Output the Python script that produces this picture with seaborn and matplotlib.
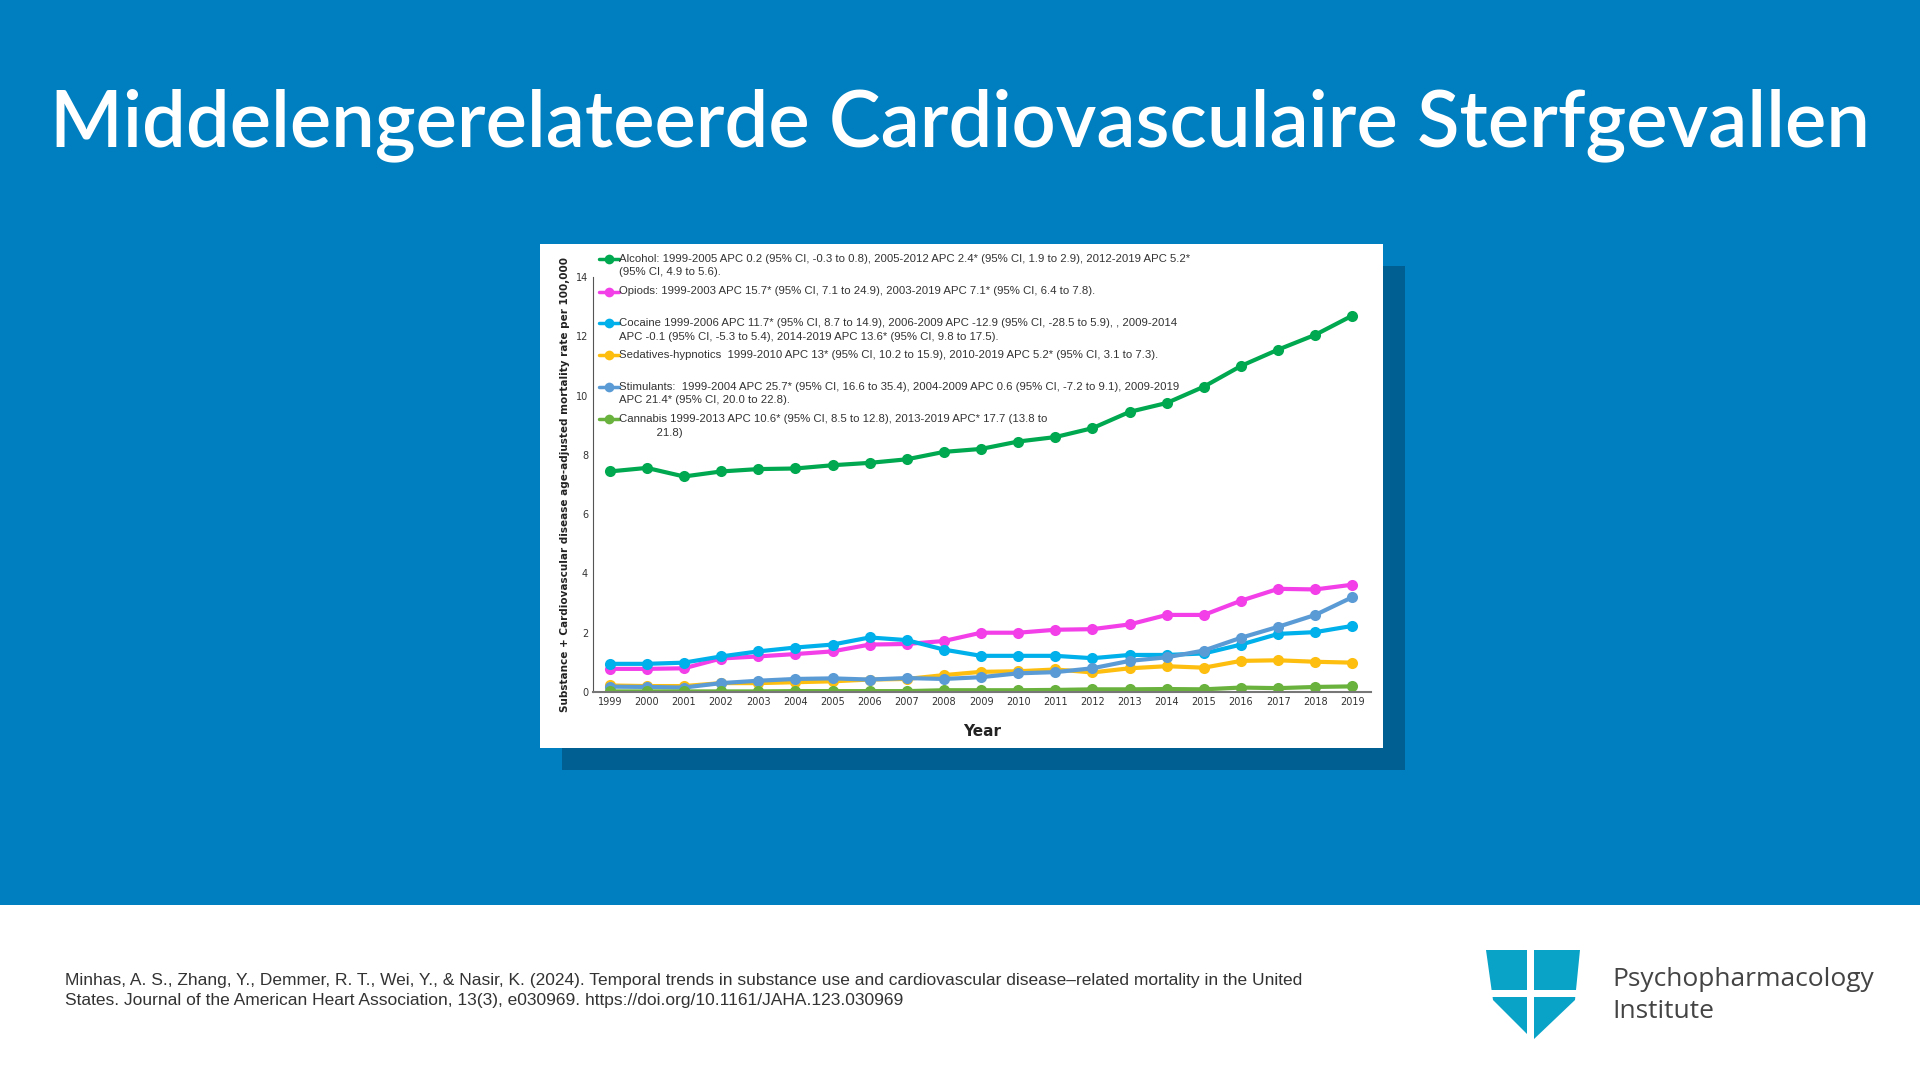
import matplotlib
matplotlib.use("Agg")
import matplotlib.pyplot as plt
import seaborn as sns
import pandas as pd
from matplotlib.patches import Rectangle, Polygon

years = list(range(1999, 2020))
alcohol = [7.44, 7.56, 7.27, 7.44, 7.52, 7.54, 7.65, 7.73, 7.85, 8.1, 8.2, 8.45, 8.6, 8.9, 9.45, 9.75, 10.3, 11.0, 11.55, 12.05, 12.7]
opioids = [0.78, 0.78, 0.8, 1.13, 1.2, 1.28, 1.37, 1.6, 1.62, 1.72, 2.0, 2.0, 2.1, 2.12, 2.28, 2.6, 2.6, 3.08, 3.48, 3.46, 3.62]
cocaine = [0.95, 0.95, 0.99, 1.2, 1.37, 1.5, 1.6, 1.84, 1.75, 1.43, 1.22, 1.22, 1.22, 1.14, 1.25, 1.25, 1.3, 1.6, 1.96, 2.02, 2.23]
sedatives = [0.22, 0.2, 0.2, 0.3, 0.3, 0.33, 0.36, 0.42, 0.44, 0.57, 0.68, 0.7, 0.76, 0.66, 0.8, 0.87, 0.82, 1.05, 1.07, 1.02, 0.99]
stimulants = [0.18, 0.17, 0.15, 0.3, 0.38, 0.44, 0.46, 0.42, 0.47, 0.44, 0.5, 0.63, 0.67, 0.8, 1.05, 1.17, 1.4, 1.83, 2.2, 2.6, 3.2]
cannabis = [0.02, 0.02, 0.02, 0.02, 0.02, 0.03, 0.03, 0.03, 0.03, 0.06, 0.06, 0.06, 0.07, 0.09, 0.09, 0.1, 0.09, 0.15, 0.13, 0.17, 0.19]

labels = [
    "Alcohol: 1999-2005 APC 0.2 (95% CI, -0.3 to 0.8), 2005-2012 APC 2.4* (95% CI, 1.9 to 2.9), 2012-2019 APC 5.2*\n(95% CI, 4.9 to 5.6).",
    "Opiods: 1999-2003 APC 15.7* (95% CI, 7.1 to 24.9), 2003-2019 APC 7.1* (95% CI, 6.4 to 7.8).",
    "Cocaine 1999-2006 APC 11.7* (95% CI, 8.7 to 14.9), 2006-2009 APC -12.9 (95% CI, -28.5 to 5.9), , 2009-2014\nAPC -0.1 (95% CI, -5.3 to 5.4), 2014-2019 APC 13.6* (95% CI, 9.8 to 17.5).",
    "Sedatives-hypnotics  1999-2010 APC 13* (95% CI, 10.2 to 15.9), 2010-2019 APC 5.2* (95% CI, 3.1 to 7.3).",
    "Stimulants:  1999-2004 APC 25.7* (95% CI, 16.6 to 35.4), 2004-2009 APC 0.6 (95% CI, -7.2 to 9.1), 2009-2019\nAPC 21.4* (95% CI, 20.0 to 22.8).",
    "Cannabis 1999-2013 APC 10.6* (95% CI, 8.5 to 12.8), 2013-2019 APC* 17.7 (13.8 to\n            21.8)",
]
colors = ["#00A84F", "#F23FE8", "#00B0EA", "#FDBE10", "#5B9BD5", "#6AB23E"]
series = [alcohol, opioids, cocaine, sedatives, stimulants, cannabis]
legend_y = [1.043, 0.965, 0.888, 0.812, 0.735, 0.657]

rows = []
for lab, vals in zip(labels, series):
    for y, v in zip(years, vals):
        rows.append({"Year": y, "Rate": v, "Series": lab})
df = pd.DataFrame(rows)

sns.set_style("white")
fig = plt.figure(figsize=(19.2, 10.8), dpi=100)
fig.patch.set_facecolor("white")

fig.patches.append(Rectangle((0, 1 - 905 / 1080), 1, 905 / 1080, transform=fig.transFigure,
                             facecolor="#007FC0", edgecolor="none", zorder=0))
fig.patches.append(Rectangle((562 / 1920, 1 - 770 / 1080), 843 / 1920, 504 / 1080, transform=fig.transFigure,
                             facecolor="#005F92", edgecolor="none", zorder=1))
fig.patches.append(Rectangle((540 / 1920, 1 - 748 / 1080), 843 / 1920, 504 / 1080, transform=fig.transFigure,
                             facecolor="white", edgecolor="none", zorder=2))

fig.text(0.5, 1 - 125 / 1080, "Middelengerelateerde Cardiovasculaire Sterfgevallen", ha="center", va="center",
         color="white", fontsize=56, fontfamily="Lato", fontweight="semibold")

ax = fig.add_axes([593 / 1920, 1 - 692 / 1080, 778 / 1920, 415 / 1080])
ax.set_facecolor("none")
ax.set_zorder(3)
sns.lineplot(data=df, x="Year", y="Rate", hue="Series", palette=colors, marker="o", markersize=8,
             markeredgewidth=0, linewidth=3, ax=ax, legend=False)
ax.set_xlim(1998.55, 2019.5)
ax.set_ylim(0, 14)
ax.set_xticks(years)
ax.set_yticks(range(0, 15, 2))
ax.tick_params(labelsize=7, colors="#333333", length=0)
ax.set_xlabel("Year", fontsize=11, fontweight="bold", color="#222222", labelpad=12)
ax.set_ylabel("Substance + Cardiovascular disease age-adjusted mortality rate per 100,000",
              fontsize=7.5, fontweight="bold", color="#222222")
for s in ["top", "right"]:
    ax.spines[s].set_visible(False)
ax.spines["left"].set_color("#555555")
ax.spines["bottom"].set_color("#777777")
ax.spines["bottom"].set_linewidth(1.5)

# legend rows with a marker on the first line of each entry
for lab, c, ly in zip(labels, colors, legend_y):
    ax.plot([0.008, 0.033], [ly, ly], transform=ax.transAxes, color=c, lw=2.5, clip_on=False)
    ax.plot([0.02], [ly], transform=ax.transAxes, color=c, marker="o", ms=7, mew=0, clip_on=False)
    ax.text(0.033, ly + 0.013, lab, transform=ax.transAxes, va="top", ha="left", fontsize=8.2,
            color="#333333", fontfamily="Liberation Sans", linespacing=1.45)

fig.text(65 / 1920, 1 - 980 / 1080, "Minhas, A. S., Zhang, Y., Demmer, R. T., Wei, Y., & Nasir, K. (2024). Temporal trends in substance use and cardiovascular disease\u2013related mortality in the United",
         fontsize=12.5, color="#333333", va="center", fontfamily="Liberation Sans")
fig.text(65 / 1920, 1 - 1001 / 1080, "States. Journal of the American Heart Association, 13(3), e030969. https://doi.org/10.1161/JAHA.123.030969",
         fontsize=12.5, color="#333333", va="center", fontfamily="Liberation Sans")

pts = [(1486, 950), (1580, 950), (1575, 1000), (1533, 1040), (1493, 1000)]
fig.patches.append(Polygon([(x / 1920, 1 - y / 1080) for x, y in pts], closed=True,
                           transform=fig.transFigure, facecolor="#0AA3C8", edgecolor="none", zorder=2))
fig.patches.append(Rectangle((1527 / 1920, 1 - 1040 / 1080), 7 / 1920, 90 / 1080, transform=fig.transFigure,
                             facecolor="white", edgecolor="none", zorder=3))
fig.patches.append(Rectangle((1486 / 1920, 1 - 997 / 1080), 94 / 1920, 7 / 1080, transform=fig.transFigure,
                             facecolor="white", edgecolor="none", zorder=3))
fig.text(1612 / 1920, 1 - 980 / 1080, "Psychopharmacology", fontsize=19, color="#444444", va="center", fontfamily="Open Sans")
fig.text(1612 / 1920, 1 - 1012 / 1080, "Institute", fontsize=19, color="#444444", va="center", fontfamily="Open Sans")

fig.savefig("out.png", dpi=100, facecolor=fig.get_facecolor())
